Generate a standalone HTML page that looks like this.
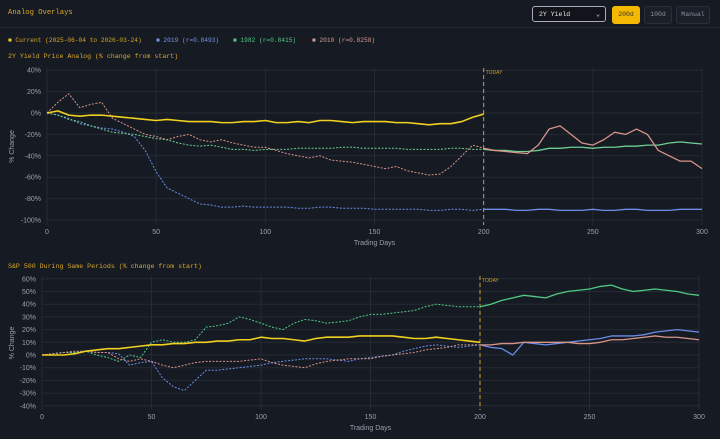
<!DOCTYPE html>
<html><head><meta charset="utf-8"><style>
body{margin:0;background:#161a22;width:720px;height:439px;overflow:hidden;font-family:"Liberation Mono",monospace;}
.hdr{position:absolute;left:0;top:0;width:720px;height:27px;border-bottom:1px solid #262b35;}
.t{position:absolute;color:#d9a72a;font-size:9px;white-space:nowrap}
.btn{position:absolute;top:6px;height:16px;font-size:6.5px;line-height:16px;text-align:center;border:1px solid #2a2f3a;border-radius:3px;color:#8a8f99;background:#1b1f28}
svg{position:absolute;left:0;top:0}
</style></head><body>
<div class="hdr"></div>
<div class="t" style="left:8px;top:9px;font-size:7.2px">Analog Overlays</div>
<div class="btn" style="left:532px;width:74px;text-align:left;padding-left:6px;box-sizing:border-box;color:#e8e8e8;background:#11141a;border-color:#aab">2Y Yield<span style="position:absolute;right:5px">⌄</span></div>
<div class="btn" style="left:612px;width:26px;background:#f5b800;color:#333;border-color:#f5b800">200d</div>
<div class="btn" style="left:644px;width:26px">100d</div>
<div class="btn" style="left:676px;width:32px">Manual</div>
<div class="t" style="left:8px;top:37px;font-size:6.2px"><span style="color:#f0d020">■</span> Current (2025-06-04 to 2026-03-24)</div>
<div class="t" style="left:156px;top:37px;font-size:6.2px;color:#7a95e8">■ 2019 (r=0.8493)</div>
<div class="t" style="left:233px;top:37px;font-size:6.2px;color:#4fcb85">■ 1982 (r=0.8415)</div>
<div class="t" style="left:312px;top:37px;font-size:6.2px;color:#d39c92">■ 2010 (r=0.8258)</div>
<div class="t" style="left:8px;top:53px;font-size:6.6px">2Y Yield Price Analog (% change from start)</div>
<div class="t" style="left:8px;top:263px;font-size:6.6px">S&amp;P 500 During Same Periods (% change from start)</div>
<svg id="s" width="720" height="439"></svg>
<script>
const xs = [0,5,10,15,20,25,30,35,40,45,50,55,60,65,70,75,80,85,90,95,100,105,110,115,120,125,130,135,140,145,150,155,160,165,170,175,180,185,190,195,200,205,210,215,220,225,230,235,240,245,250,255,260,265,270,275,280,285,290,295,300];
const yCurrent = [0,2,-2,-3,-2,-2,-3,-4,-5,-6,-7,-6,-7,-8,-8,-8,-9,-9,-8,-8,-7,-9,-9,-8,-9,-7,-7,-8,-9,-8,-8,-8,-9,-9,-10,-11,-10,-10,-8,-4,-1];
const y2019 = [0,-2,-5,-10,-12,-14,-15,-18,-22,-35,-55,-70,-75,-80,-85,-86,-88,-88,-87,-88,-88,-88,-88,-89,-89,-88,-88,-89,-89,-89,-90,-90,-90,-90,-90,-91,-91,-90,-90,-91,-90,-90,-90,-91,-91,-90,-90,-91,-91,-91,-90,-91,-91,-90,-90,-91,-91,-91,-90,-90,-90];
const y1982 = [0,-2,-6,-8,-12,-15,-18,-19,-20,-22,-24,-25,-28,-30,-31,-30,-32,-34,-34,-35,-34,-34,-34,-33,-33,-33,-33,-32,-32,-33,-33,-33,-33,-34,-34,-34,-34,-33,-33,-34,-34,-35,-35,-36,-36,-35,-33,-33,-32,-32,-33,-32,-32,-31,-31,-30,-30,-28,-27,-28,-29];
const y2010 = [0,10,18,5,8,10,-5,-10,-15,-20,-22,-25,-22,-20,-25,-27,-25,-28,-30,-32,-32,-35,-38,-40,-42,-40,-44,-45,-46,-48,-50,-52,-50,-54,-56,-58,-57,-50,-40,-30,-33,-35,-36,-37,-38,-30,-15,-12,-20,-28,-30,-25,-18,-20,-15,-20,-35,-40,-45,-45,-52];
const sCurrent = [0,0,0,1,3,4,5,5,6,7,8,8,9,9,10,10,11,11,12,12,14,13,13,12,11,13,14,14,14,15,15,15,15,14,13,13,14,13,12,11,10];
const s2019 = [0,1,2,2,3,2,2,1,-8,-6,-5,-18,-25,-28,-20,-12,-12,-11,-10,-9,-8,-6,-5,-4,-3,-3,-3,-4,-5,-3,-2,-1,0,3,5,7,8,7,6,7,8,6,5,0,10,9,8,9,10,11,12,13,15,15,15,16,18,19,20,19,18];
const s1982 = [0,1,2,2,3,0,-2,-5,0,-2,10,12,10,10,12,22,23,25,30,28,25,22,20,25,28,27,25,26,27,30,32,32,33,34,35,38,40,39,38,38,38,40,43,45,47,46,45,48,50,51,52,54,55,52,50,51,52,51,50,48,47];
const s2010 = [0,1,2,3,3,2,2,-3,-5,-3,-5,-8,-10,-8,-6,-5,-5,-5,-5,-4,-3,-6,-8,-9,-10,-7,-5,-4,-3,-3,-3,-1,0,1,2,4,5,6,8,8,8,8,9,9,10,10,10,10,10,9,9,10,12,12,13,14,15,14,14,13,12];
const topTicks = [40,20,0,-20,-40,-60,-80,-100];
const botTicks = [60,50,40,30,20,10,0,-10,-20,-30,-40];
const xTicks = [0,50,100,150,200,250,300];

const svg=document.getElementById('s'),NS='http://www.w3.org/2000/svg';
function el(t,a,txt){const e=document.createElementNS(NS,t);for(const k in a)e.setAttribute(k,a[k]);if(txt!=null)e.textContent=txt;svg.appendChild(e);return e;}
function chart(cfg){
  const X=v=>cfg.x0+v*(cfg.x1-cfg.x0)/300;
  const Y=v=>cfg.yz+(-v)*cfg.k;
  cfg.yt.forEach(t=>{
    const g=el('line',{x1:cfg.x0,x2:cfg.x1,y1:Y(t),y2:Y(t),stroke:'#252a34','stroke-width':1});
    
    
    const l=el('text',{x:cfg.x0-6,y:Y(t)+2.5,'text-anchor':'end',fill:'#9aa0aa','font-size':7,'font-family':'Liberation Sans, sans-serif'},t+'%');
    
    
  });
  xTicks.forEach(t=>{
    const g=el('line',{x1:X(t),x2:X(t),y1:cfg.top,y2:cfg.bot,stroke:'#252a34','stroke-width':1});
    
    
    const l=el('text',{x:X(t),y:cfg.bot+9,'text-anchor':'middle',fill:'#9aa0aa','font-size':7,'font-family':'Liberation Sans, sans-serif'},t);
    
    
  });
  const xt=el('text',{x:(cfg.x0+cfg.x1)/2,y:cfg.bot+20,'text-anchor':'middle',fill:'#9aa0aa','font-size':7,'font-family':'Liberation Sans, sans-serif'},'Trading Days');
  
  
  const yy=(cfg.top+cfg.bot)/2;
  const yt=el('text',{x:14,y:yy,'text-anchor':'middle',fill:'#9aa0aa','font-size':7,'font-family':'Liberation Sans, sans-serif',transform:`rotate(-90 14 ${yy})`},'% Change');
  
  
  const td=el('line',{x1:X(200),x2:X(200),y1:cfg.top,y2:cfg.bot,stroke:'#c9a227','stroke-width':1,'stroke-dasharray':'4,3'});
  
  
  const tl=el('text',{x:X(200)+2,y:cfg.top+6,fill:'#c9a227','font-size':5,'font-family':'Liberation Sans, sans-serif'},'TODAY');
  
  
  cfg.series.forEach(s=>{
    const pts=s.v.map((v,i)=>[X(xs[i]),Y(v)]);
    const hist=pts.filter((p,i)=>xs[i]<=200), fut=pts.filter((p,i)=>xs[i]>=200);
    const a=el('polyline',{points:hist.map(p=>p.join(',')).join(' '),fill:'none',stroke:s.c,'stroke-width':s.w||1,'stroke-dasharray':s.solid?'':'2,1.5','stroke-linejoin':'round'});
    
    
    if(fut.length>1){
      const b=el('polyline',{points:fut.map(p=>p.join(',')).join(' '),fill:'none',stroke:s.c,'stroke-width':1.3,'stroke-linejoin':'round'});
      
      
    }
  });
}
chart({x0:47,x1:702,top:68,bot:225,yz:113,k:1.07,yt:topTicks,series:[
  {n:'2019',v:y2019,c:'#6b8de8'},{n:'1982',v:y1982,c:'#6fcf95'},{n:'2010',v:y2010,c:'#d8958a'},
  {n:'current',v:yCurrent,c:'#f0d020',solid:true,w:1.6}]});
chart({x0:42,x1:699,top:276,bot:410,yz:355,k:1.27,yt:botTicks,series:[
  {n:'2019',v:s2019,c:'#6b8de8'},{n:'1982',v:s1982,c:'#4fcb85'},{n:'2010',v:s2010,c:'#d8958a'},
  {n:'current',v:sCurrent,c:'#f0d020',solid:true,w:1.6}]});
</script>
</body></html>
